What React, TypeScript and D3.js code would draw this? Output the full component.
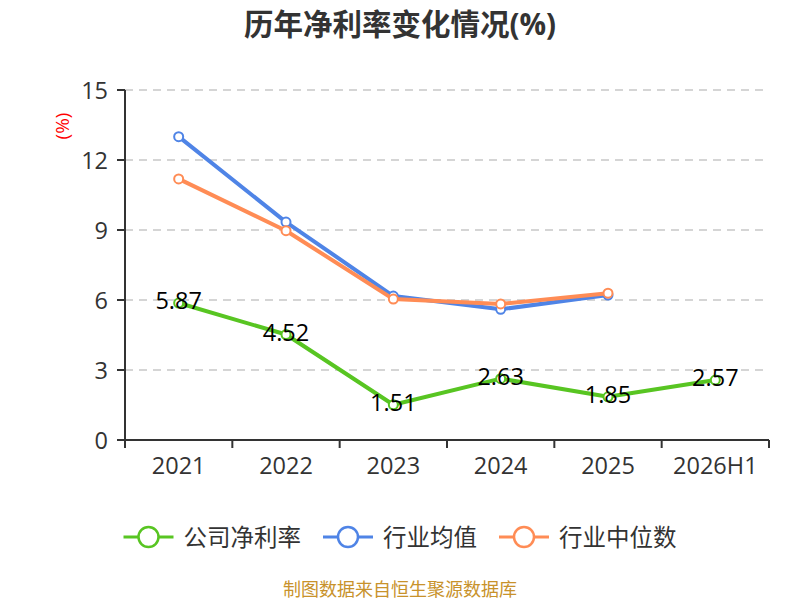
import React from "react";
import * as d3 from "d3";

const categories = ["2021", "2022", "2023", "2024", "2025", "2026H1"];
const companyNetMargin = [5.87, 4.52, 1.51, 2.63, 1.85, 2.57];
const industryAverage: (number | null)[] = [13.0, 9.34, 6.17, 5.6, 6.21, null];
const industryMedian: (number | null)[] = [11.19, 8.97, 6.04, 5.83, 6.29, null];
const yTicks = [0, 3, 6, 9, 12, 15];
const seriesNames = ["公司净利率", "行业均值", "行业中位数"];
const colors = ["#58c522", "#4f84e6", "#ff8c55"];

const FONT = "'Open Sans', 'Noto Sans CJK SC', sans-serif";

export default function App() {
  const W = 800, H = 600;
  const x = d3.scaleBand<string>().domain(categories).range([125, 769]);
  const y = d3.scaleLinear().domain([0, 15]).range([440, 90]);
  const cx = (c: string) => (x(c) as number) + x.bandwidth() / 2;

  const line = d3
    .line<{ c: string; v: number | null }>()
    .defined((d) => d.v != null)
    .x((d) => cx(d.c))
    .y((d) => y(d.v as number));

  const series = [companyNetMargin, industryAverage, industryMedian].map((arr) =>
    categories.map((c, i) => ({ c, v: arr[i] as number | null }))
  );

  const legendFont = 23.5;
  const textW = (s: string) => s.length * legendFont;
  const itemW = (s: string) => 50 + 10 + textW(s);
  const gap = 22;
  const totalW = seriesNames.reduce((a, s) => a + itemW(s), 0) + gap * (seriesNames.length - 1);
  let lx = W / 2 - totalW / 2;
  const legendItems = seriesNames.map((s, i) => {
    const item = { s, x: lx, color: colors[i] };
    lx += itemW(s) + gap;
    return item;
  });

  return (
    <svg
      width={W}
      height={H}
      style={{ position: "fixed", left: 0, top: 0, background: "#fff" }}
      fontFamily={FONT}
    >
      <text x={400} y={23} textAnchor="middle" dominantBaseline="central" fontSize={29.5} fontWeight="bold" fill="#333">
        历年净利率变化情况(%)
      </text>
      <text
        transform="translate(62,126) rotate(-90)"
        textAnchor="middle"
        dominantBaseline="central"
        fontSize={19}
        fill="#ff0000"
      >
        (%)
      </text>

      {yTicks.map((t) => (
        <g key={t}>
          {t !== 0 && (
            <line x1={125} x2={769} y1={y(t)} y2={y(t)} stroke="#c8c8c8" strokeWidth={1.5} strokeDasharray="8,6" />
          )}
          <line x1={117} x2={125} y1={y(t)} y2={y(t)} stroke="#333" strokeWidth={2} />
          <text x={108} y={y(t)} textAnchor="end" dominantBaseline="central" fontSize={23.5} fill="#333">
            {t}
          </text>
        </g>
      ))}
      <line x1={125} x2={125} y1={90} y2={448} stroke="#333" strokeWidth={2} />
      <line x1={117} x2={769} y1={440} y2={440} stroke="#333" strokeWidth={2} />
      {[...categories.map((c) => x(c) as number), 769].map((p, i) => (
        <line key={i} x1={p} x2={p} y1={440} y2={448} stroke="#333" strokeWidth={2} />
      ))}
      {categories.map((c) => (
        <text key={c} x={cx(c)} y={465} textAnchor="middle" dominantBaseline="central" fontSize={23.5} fill="#333">
          {c}
        </text>
      ))}

      {[1, 2, 0].map((si) => (
        <g key={si}>
          <path d={line(series[si]) || ""} fill="none" stroke={colors[si]} strokeWidth={4} strokeLinejoin="round" />
          {series[si]
            .filter((d) => d.v != null)
            .map((d) => (
              <circle key={d.c} cx={cx(d.c)} cy={y(d.v as number)} r={4.5} fill="#fff" stroke={colors[si]} strokeWidth={2} />
            ))}
        </g>
      ))}
      {series[0].map((d) => (
        <text
          key={d.c}
          x={cx(d.c)}
          y={y(d.v as number) - 3}
          textAnchor="middle"
          dominantBaseline="central"
          fontSize={23.5}
          fill="#000"
        >
          {(d.v as number).toFixed(2)}
        </text>
      ))}

      {legendItems.map((it) => (
        <g key={it.s}>
          <line x1={it.x} x2={it.x + 50} y1={537} y2={537} stroke={it.color} strokeWidth={3} />
          <circle cx={it.x + 25} cy={537} r={10} fill="#fff" stroke={it.color} strokeWidth={2.5} />
          <text x={it.x + 60} y={537} dominantBaseline="central" fontSize={legendFont} fill="#333">
            {it.s}
          </text>
        </g>
      ))}

      <text x={400} y={589} textAnchor="middle" dominantBaseline="central" fontSize={18} fill="#c8922b">
        制图数据来自恒生聚源数据库
      </text>
    </svg>
  );
}
